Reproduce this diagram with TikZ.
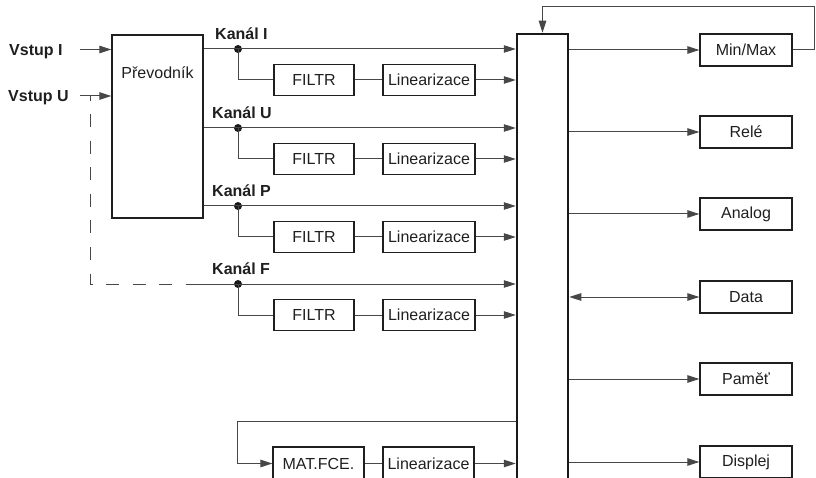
\documentclass[tikz,border=0pt]{standalone}
\usepackage{fontspec}
\setmainfont{Liberation Sans}
\usetikzlibrary{arrows.meta,calc}
\begin{document}
\begin{tikzpicture}[x=1pt,y=-1pt,
  line/.style={draw=black!72, line width=1pt},
  arr/.style={line, -{Triangle[length=12pt,width=7.5pt]}},
  box/.style={draw=black!88, line width=1.3pt, minimum height=31pt, inner sep=0pt, text=black!88, font=\fontsize{16}{18}\selectfont},
  lbl/.style={inner sep=0pt, anchor=base west, text=black!88, font=\bfseries\fontsize{16}{18}\selectfont},
  dot/.style={circle, fill=black!90, inner sep=0pt, minimum size=8pt}]
\useasboundingbox (0,0) rectangle (816,478);
\clip (0,0) rectangle (816,478);

% converter and central unit
\node[box, minimum width=91pt, minimum height=183pt] (prev) at (157.5,126.5) {};
\node[inner sep=0pt, text=black!88, font=\fontsize{16}{18}\selectfont] (prevtxt) at (157.5,73) {Převodník};
\node[draw=black!90, line width=2.5pt, minimum width=51pt, minimum height=470pt, inner sep=0pt] (cpu) at (542.5,269) {};

% inputs
\node[lbl] (vi) at (9,55.5) {Vstup I};
\node[lbl] (vu) at (8,102) {Vstup U};
\coordinate (vi0) at (80,49.5);
\coordinate (vu0) at (80,96);
\draw[arr] (vi0) -- (prev.west |- vi0);
\draw[arr] (vu0) -- (prev.west |- vu0);
\coordinate (dtop) at (90,96);
\coordinate (dcorner) at (90,284);
\coordinate (dsol) at (188,284);
\draw[line, dash pattern=on 13pt off 13.5pt, dash phase=8pt] (dtop) -- (dcorner) -- (dsol);

% channels
\foreach \n/\y/\x/\t in {I/49/215/{Kanál I}, U/128/212/{Kanál U}, P/206/212/{Kanál P}, F/284/212/{Kanál F}}{
  \node[lbl] (k\n) at (\x,\y-9) {\t};
  \node[dot] (d\n) at (238,\y) {};
  \node[box, minimum width=80pt] (f\n) at (314,\y+31) {FILTR};
  \node[box, minimum width=92pt] (l\n) at (429,\y+31) {Linearizace};
  \draw[line] (d\n.center) |- (f\n.west);
  \draw[line] (f\n.east) -- (l\n.west);
  \draw[arr] (l\n.east) -- (cpu.west |- l\n.east);
}
\draw[arr] (prev.east |- dI) -- (cpu.west |- dI);
\draw[arr] (prev.east |- dU) -- (cpu.west |- dU);
\draw[arr] (prev.east |- dP) -- (cpu.west |- dP);
\draw[arr] (dsol) -- (cpu.west |- dsol);

% math function loop
\node[box, minimum width=91pt, minimum height=33pt] (mat) at (318.5,463.5) {MAT.FCE.};
\node[box, minimum width=91pt, minimum height=33pt] (lmat) at (428.5,463.5) {Linearizace};
\coordinate (fbl) at (237,421);
\draw[arr] (cpu.west |- fbl) -- (fbl) |- (mat.west);
\draw[line] (mat.east) -- (lmat.west);
\draw[arr] (lmat.east) -- (cpu.west |- lmat.east);

% outputs
\node[box, minimum width=92pt, minimum height=32pt] (minmax) at (746,50) {Min/Max};
\node[box, minimum width=92pt, minimum height=32pt] (rele) at (746,132) {Relé};
\node[box, minimum width=92pt, minimum height=32pt] (analog) at (746,214) {Analog};
\node[box, minimum width=92pt, minimum height=32pt] (data) at (746,297) {Data};
\node[box, minimum width=92pt, minimum height=32pt] (pamet) at (746,379) {Paměť};
\node[box, minimum width=92pt, minimum height=32pt] (displej) at (746,462) {Displej};
\draw[arr] (cpu.east |- minmax) -- (minmax.west);
\draw[arr] (cpu.east |- rele) -- (rele.west);
\draw[arr] (cpu.east |- analog) -- (analog.west);
\draw[line, {Triangle[length=12pt,width=7.5pt]}-{Triangle[length=12pt,width=7.5pt]}] (cpu.east |- data) -- (data.west);
\draw[arr] (cpu.east |- pamet) -- (pamet.west);
\draw[arr] (cpu.east |- displej) -- (displej.west);

% feedback from Min/Max
\coordinate (tr) at (814.5,7);
\coordinate (tl) at (542.5,7);
\draw[arr] (minmax.east) -- (minmax.east -| tr) -- (tr) -- (tl) -- (cpu.north);
\end{tikzpicture}
\end{document}
